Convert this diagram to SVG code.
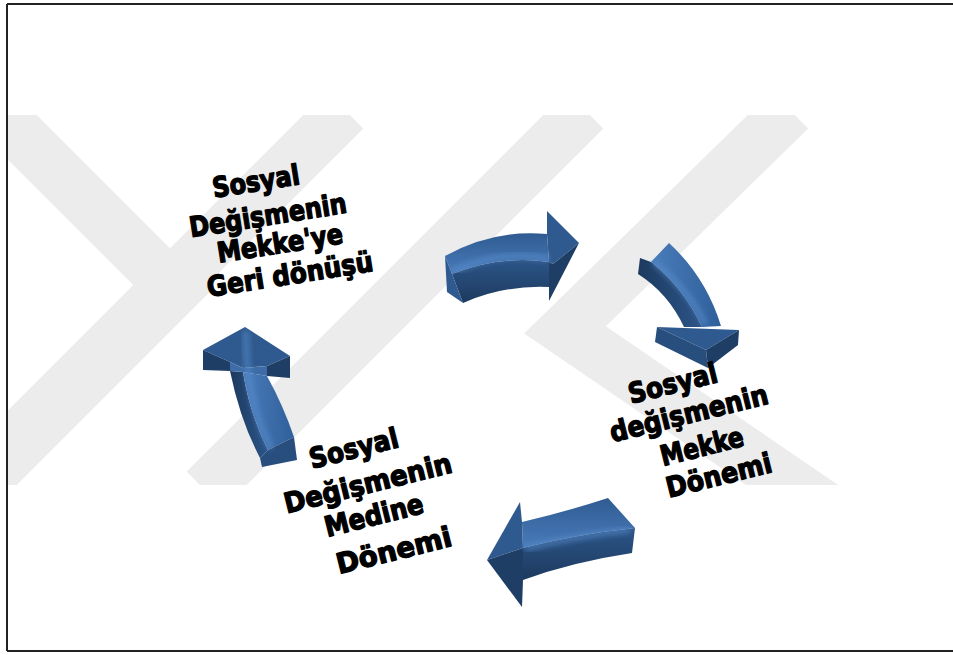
<svg xmlns="http://www.w3.org/2000/svg" width="953" height="655" viewBox="0 0 953 655">
  <style>
    .wm { fill: none; stroke: #ececec; stroke-width: 52; stroke-linejoin: miter; }
    .lbl { font-family: "DejaVu Sans", Lato, sans-serif; font-weight: bold; font-size: 28px; fill: #000; stroke: #000; stroke-width: 1.4; stroke-linejoin: round; text-anchor: middle; }
    .dd { fill: #1f3e66; }
    .md { fill: #2f5a8f; }
    .hl { fill: none; stroke: #5a8fcf; stroke-width: 7; stroke-linecap: round; opacity: 0.5; filter: url(#soft); }
  </style>
  <defs>
    <clipPath id="wmClip"><rect x="8" y="115" width="940" height="370"/></clipPath>
    <filter id="soft" x="-20%" y="-20%" width="140%" height="140%"><feGaussianBlur stdDeviation="2.5"/></filter>
    <!-- shading for the extruded arrow faces -->
    <linearGradient id="gVlt" x1="0" y1="0" x2="0" y2="1">
      <stop offset="0" stop-color="#2f5b91"/><stop offset="1" stop-color="#4a7cbb"/>
    </linearGradient>
    <linearGradient id="gVdk" x1="0" y1="0" x2="0" y2="1">
      <stop offset="0" stop-color="#2c5588"/><stop offset="1" stop-color="#1d3a5f"/>
    </linearGradient>
    <linearGradient id="gHlt" x1="0" y1="0" x2="1" y2="0">
      <stop offset="0" stop-color="#4a7cbb"/><stop offset="1" stop-color="#30609a"/>
    </linearGradient>
    <linearGradient id="gHdk" x1="0" y1="0" x2="1" y2="0">
      <stop offset="0" stop-color="#1d3a5f"/><stop offset="1" stop-color="#2c5588"/>
    </linearGradient>
  </defs>

  <rect x="0" y="0" width="953" height="655" fill="#fff"/>

  <!-- background watermark -->
  <g id="watermark" clip-path="url(#wmClip)">
    <polyline class="wm" points="-20,95 175,290 -20,485"/>
    <line class="wm" x1="345" y1="110" x2="-30" y2="485"/>
    <line class="wm" x1="585" y1="110" x2="205" y2="490"/>
    <polyline class="wm" points="790,110 565,330 880,545"/>
  </g>

  <!-- frame -->
  <g id="frame" stroke="#222" stroke-width="2" fill="none">
    <line x1="7" y1="4" x2="953" y2="4"/>
    <line x1="7" y1="4" x2="7" y2="651"/>
    <line x1="7" y1="651" x2="953" y2="651"/>
  </g>

  <!-- cycle arrows -->
  <g id="connectors">
    <g id="arrow-top">
      <path fill="url(#gVlt)" d="M445,256 Q493,229 547,234 L549,262 Q500,255 452,274 Z"/>
      <path fill="url(#gVdk)" d="M452,274 Q500,255 549,262 L549,287 Q503,285 463,303 Z"/>
      <path class="md" d="M445,256 L452,274 L463,303 L447,292 Z"/>
      <path class="md" d="M547,211 L579,243 L553,264 L549,262 L547,234 Z"/>
      <path class="dd" d="M553,264 L579,243 L549,301 L549,262 Z"/>
      <path class="hl" d="M456,270 Q500,250 546,258"/>
    </g>
    <g id="arrow-right">
      <path fill="url(#gHlt)" d="M651,262 L669,243 Q706,277 721,326 L702,327 Q684,288 651,262 Z"/>
      <path fill="url(#gHdk)" d="M640,258 L651,262 Q684,288 702,327 L684,327 Q668,293 638,274 Z"/>
      <path class="md" d="M657,327 L739,330 L706,350 Z"/>
      <path fill="#284e7e" d="M657,327 L706,350 L708,368 L655,342 Z"/>
      <path class="dd" d="M706,350 L739,330 L738,345 L708,368 Z"/>
      <path class="hl" d="M656,264 Q688,290 704,322"/>
    </g>
    <g id="arrow-bottom">
      <path fill="url(#gVlt)" d="M608,498 Q565,512 522,522 L523,548 Q578,534 635,528 Z"/>
      <path fill="url(#gVdk)" d="M635,528 Q578,534 523,548 L523,580 Q572,562 632,553 Z"/>
      <path class="md" d="M520,502 L522,522 L523,548 L487,560 Z"/>
      <path class="dd" d="M487,560 L523,548 L523,580 L522,607 Z"/>
      <path class="hl" d="M628,530 Q578,536 528,548"/>
    </g>
    <g id="arrow-left">
      <path fill="url(#gHdk)" d="M230,371 Q240,420 260,458 L268,450 Q250,415 243,372 Z"/>
      <path fill="url(#gHlt)" d="M243,372 Q250,415 268,450 L294,437 Q283,405 267,376 Z"/>
      <path fill="#284e7e" d="M260,458 L268,450 L294,437 L297,460 L262,467 Z"/>
      <path class="md" d="M245,327 L290,356 L267,366 L243,368 L230,362 L203,350 Z"/>
      <path class="dd" d="M203,350 L230,362 L230,371 L203,370 Z"/>
      <path class="dd" d="M290,356 L267,366 L267,376 L290,378 Z"/>
      <path fill="#3d6ca6" d="M230,362 L243,368 L267,366 L267,376 L243,372 L230,371 Z"/>
      <path class="hl" d="M246,334 Q246,400 270,446"/>
    </g>
  </g>

  <!-- stage labels -->
  <g id="node-return-to-mecca" class="lbl">
    <text transform="translate(256,182) rotate(-9)" y="9" textLength="88" lengthAdjust="spacingAndGlyphs">Sosyal</text>
    <text transform="translate(268,216) rotate(-9)" y="9" textLength="159" lengthAdjust="spacingAndGlyphs">Değişmenin</text>
    <text transform="translate(280,244) rotate(-9)" y="9" textLength="127" lengthAdjust="spacingAndGlyphs">Mekke'ye</text>
    <text transform="translate(290,275) rotate(-9)" y="9" textLength="168" lengthAdjust="spacingAndGlyphs">Geri dönüşü</text>
  </g>
  <g id="node-mecca-period" class="lbl">
    <text transform="translate(673,384) rotate(-14)" y="9" textLength="91" lengthAdjust="spacingAndGlyphs">Sosyal</text>
    <text transform="translate(689,414) rotate(-14)" y="9" textLength="162" lengthAdjust="spacingAndGlyphs">değişmenin</text>
    <text transform="translate(702,447) rotate(-14)" y="9" textLength="85" lengthAdjust="spacingAndGlyphs">Mekke</text>
    <text transform="translate(719,476) rotate(-14)" y="9" textLength="108" lengthAdjust="spacingAndGlyphs">Dönemi</text>
  </g>
  <g id="node-medina-period" class="lbl">
    <text transform="translate(354,449) rotate(-14)" y="9" textLength="91" lengthAdjust="spacingAndGlyphs">Sosyal</text>
    <text transform="translate(368,484) rotate(-14)" y="9" textLength="172" lengthAdjust="spacingAndGlyphs">Değişmenin</text>
    <text transform="translate(374,516) rotate(-14)" y="9" textLength="101" lengthAdjust="spacingAndGlyphs">Medine</text>
    <text transform="translate(394,551) rotate(-14)" y="9" textLength="118" lengthAdjust="spacingAndGlyphs">Dönemi</text>
  </g>
</svg>
